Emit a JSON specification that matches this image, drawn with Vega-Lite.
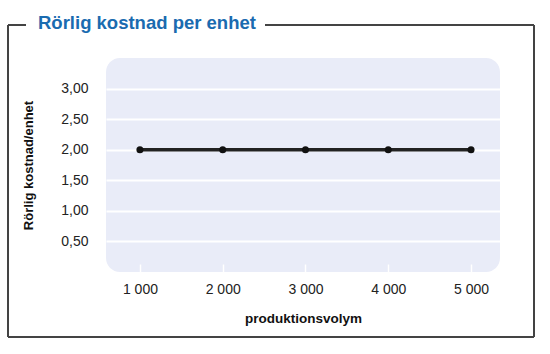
{
  "$schema": "https://vega.github.io/schema/vega-lite/v6.json",
  "width": 394,
  "height": 214,
  "autosize": {"type": "none"},
  "padding": {"left": 106, "top": 58, "right": 50, "bottom": 82},
  "background": "white",
  "title": {
    "text": "Rörlig kostnad per enhet",
    "anchor": "start",
    "frame": "group",
    "dx": -68,
    "dy": 17,
    "offset": 0,
    "baseline": "middle",
    "font": "Liberation Sans",
    "fontSize": 18.5,
    "fontWeight": "bold",
    "color": "#1a6bb0"
  },
  "config": {
    "view": {"fill": "#e9ecf8", "stroke": null, "cornerRadius": 14},
    "axis": {"labelFont": "Liberation Sans", "titleFont": "Liberation Sans", "labelColor": "#222", "titleColor": "#111"}
  },
  "data": {
    "values": [
      {"volym": 1000, "kostnad": 2.0},
      {"volym": 2000, "kostnad": 2.0},
      {"volym": 3000, "kostnad": 2.0},
      {"volym": 4000, "kostnad": 2.0},
      {"volym": 5000, "kostnad": 2.0}
    ]
  },
  "layer": [
    {
      "mark": {"type": "line", "color": "#222", "strokeWidth": 3.5, "point": {"filled": true, "size": 50, "color": "#111"}},
      "encoding": {
        "x": {
          "field": "volym",
          "type": "quantitative",
          "scale": {"domain": [590, 5350], "nice": false, "zero": false},
          "axis": {
            "values": [1000, 2000, 3000, 4000, 5000],
            "labelExpr": "replace(format(datum.value, ','), ',', ' ')",
            "grid": false,
            "domain": false,
            "ticks": true,
            "tickColor": "white",
            "tickWidth": 1.5,
            "tickSize": -8,
            "labelPadding": 18,
            "labelFontSize": 14,
            "title": "produktionsvolym",
            "titleFontSize": 13.5,
            "titleFontWeight": "bold",
            "titlePadding": 15
          }
        },
        "y": {
          "field": "kostnad",
          "type": "quantitative",
          "scale": {"domain": [0, 3.5], "nice": false, "zero": true},
          "axis": {
            "values": [0.5, 1, 1.5, 2, 2.5, 3],
            "labelExpr": "replace(format(datum.value, '.2f'), '.', ',')",
            "grid": true,
            "gridColor": "white",
            "gridWidth": 2,
            "gridOpacity": 1,
            "domain": false,
            "ticks": false,
            "labelPadding": 18,
            "labelFontSize": 14,
            "title": "Rörlig kostnad/enhet",
            "titleFontSize": 13,
            "titleFontWeight": "bold",
            "titleAngle": -90,
            "titleX": -78,
            "titleY": 107,
            "titleAlign": "center",
            "titleBaseline": "middle"
          }
        }
      }
    },
    {
      "mark": {"type": "rule", "color": "#444", "strokeWidth": 1.5, "clip": false},
      "encoding": {"x": {"datum": -594}, "x2": {"datum": -377}, "y": {"datum": 4.04}}
    },
    {
      "mark": {"type": "rule", "color": "#444", "strokeWidth": 1.5, "clip": false},
      "encoding": {"x": {"datum": 2511}, "x2": {"datum": 5761}, "y": {"datum": 4.04}}
    },
    {
      "mark": {"type": "rule", "color": "#444", "strokeWidth": 1.5, "clip": false},
      "encoding": {"x": {"datum": -594}, "y": {"datum": 4.04}, "y2": {"datum": -1.063}}
    },
    {
      "mark": {"type": "rule", "color": "#444", "strokeWidth": 1.5, "clip": false},
      "encoding": {"x": {"datum": 5761}, "y": {"datum": 4.04}, "y2": {"datum": -1.063}}
    },
    {
      "mark": {"type": "rule", "color": "#444", "strokeWidth": 1.5, "clip": false},
      "encoding": {"x": {"datum": -594}, "x2": {"datum": 5761}, "y": {"datum": -1.063}}
    }
  ]
}
